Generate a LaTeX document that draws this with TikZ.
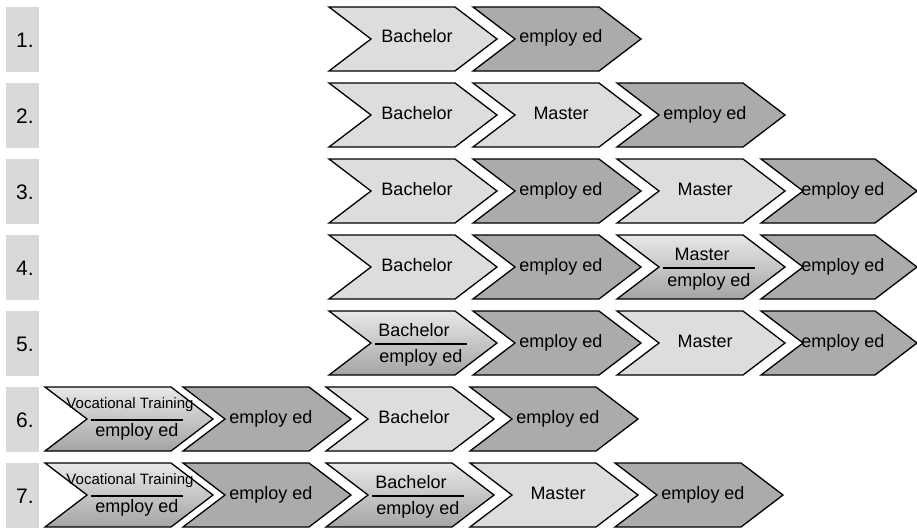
\documentclass[tikz,border=0pt]{standalone}
\usepackage{fontspec}
\setmainfont{Liberation Sans}

\definecolor{boxgray}{HTML}{D9D9D9}
\definecolor{lightstep}{HTML}{DDDDDD}
\definecolor{darkstep}{HTML}{ABABAB}
\definecolor{gradtop}{HTML}{E8E8E8}
\definecolor{gradbot}{HTML}{A4A4A4}

\tikzset{
	chevline/.style={draw=black, line width=1.3pt, line join=miter},
	lightfill/.style={fill=lightstep},
	darkfill/.style={fill=darkstep},
	gradfill/.style={top color=gradtop, bottom color=gradbot},
	steptext/.style={inner sep=0pt, text height=12pt, text depth=4pt, font=\fontsize{18}{20}\selectfont},
	numbox/.style={fill=boxgray, minimum width=33pt, minimum height=65pt, inner sep=0pt},
	numtext/.style={inner sep=0pt, font=\fontsize{21}{23}\selectfont},
	splitline/.style={line width=1.5pt}
}

% one step: [body width]{name}{x}{top y}{fill}{text}
\newcommand{\chev}[6][126]{%
	\draw[chevline,#5] (#3,#4) -- ++(#1,0) -- ++(42,32) -- ++(-42,32) -- ++(-#1,0) -- ++(42,-32) -- cycle;
	\node[steptext] (#2) at ({#3+(#1+42)/2+4},{#4+32}) {#6};}

% split step: {name}{x}{top y}{upper text}{lower text}{upper base}{lower base}
\newcommand{\chevsplit}[7]{%
	\draw[chevline,gradfill] (#2,#3) -- ++(126,0) -- ++(42,32) -- ++(-42,32) -- ++(-126,0) -- ++(42,-32) -- cycle;
	\node[steptext,anchor=base] (#1u) at (#2+85,#3+#6) {#4};
	\coordinate (#1l) at (#2+46,#3+33);
	\coordinate (#1r) at (#2+138,#3+33);
	\draw[splitline] (#1l) -- (#1r);
	\node[steptext,anchor=base] (#1d) at (#2+92,#3+#7) {#5};}

\begin{document}
\begin{tikzpicture}[x=1pt, y=-1pt]
	\useasboundingbox (0,0) rectangle (917,527);

	% row labels
	\foreach \i/\ytop in {1/7, 2/83, 3/159, 4/235, 5/311, 6/387, 7/463}{
		\node[numbox] (box\i) at (22.5,\ytop+32.5) {};
		\node[numtext] (num\i) at (25,\ytop+33) {\i.};
	}

	% 1.
	\chev{bach1}{329}{7}{lightfill}{Bachelor}
	\chev{emp1a}{473}{7}{darkfill}{employ ed}
	% 2.
	\chev{bach2}{329}{83}{lightfill}{Bachelor}
	\chev{mast2}{473}{83}{lightfill}{Master}
	\chev{emp2a}{617}{83}{darkfill}{employ ed}
	% 3.
	\chev{bach3}{329}{159}{lightfill}{Bachelor}
	\chev{emp3a}{473}{159}{darkfill}{employ ed}
	\chev{mast3}{617}{159}{lightfill}{Master}
	\chev[114]{emp3b}{761}{159}{darkfill}{employ ed}
	% 4.
	\chev{bach4}{329}{235}{lightfill}{Bachelor}
	\chev{emp4a}{473}{235}{darkfill}{employ ed}
	\chevsplit{mast4}{617}{235}{Master}{employ ed}{25}{51}
	\chev[114]{emp4b}{761}{235}{darkfill}{employ ed}
	% 5.
	\chevsplit{bach5}{329}{311}{Bachelor}{employ ed}{25}{51}
	\chev{emp5a}{473}{311}{darkfill}{employ ed}
	\chev{mast5}{617}{311}{lightfill}{Master}
	\chev[114]{emp5b}{761}{311}{darkfill}{employ ed}
	% 6.
	\chevsplit{voc6}{45}{387}{\fontsize{15}{17}\selectfont Vocational Training}{employ ed}{21}{49}
	\chev{emp6a}{183}{387}{darkfill}{employ ed}
	\chev{bach6}{326}{387}{lightfill}{Bachelor}
	\chev{emp6b}{470}{387}{darkfill}{employ ed}
	% 7.
	\chevsplit{voc7}{45}{463}{\fontsize{15}{17}\selectfont Vocational Training}{employ ed}{21}{49}
	\chev{emp7a}{183}{463}{darkfill}{employ ed}
	\chevsplit{bach7}{326}{463}{Bachelor}{employ ed}{25}{51}
	\chev{mast7}{470}{463}{lightfill}{Master}
	\chev{emp7b}{615}{463}{darkfill}{employ ed}
\end{tikzpicture}
\end{document}
